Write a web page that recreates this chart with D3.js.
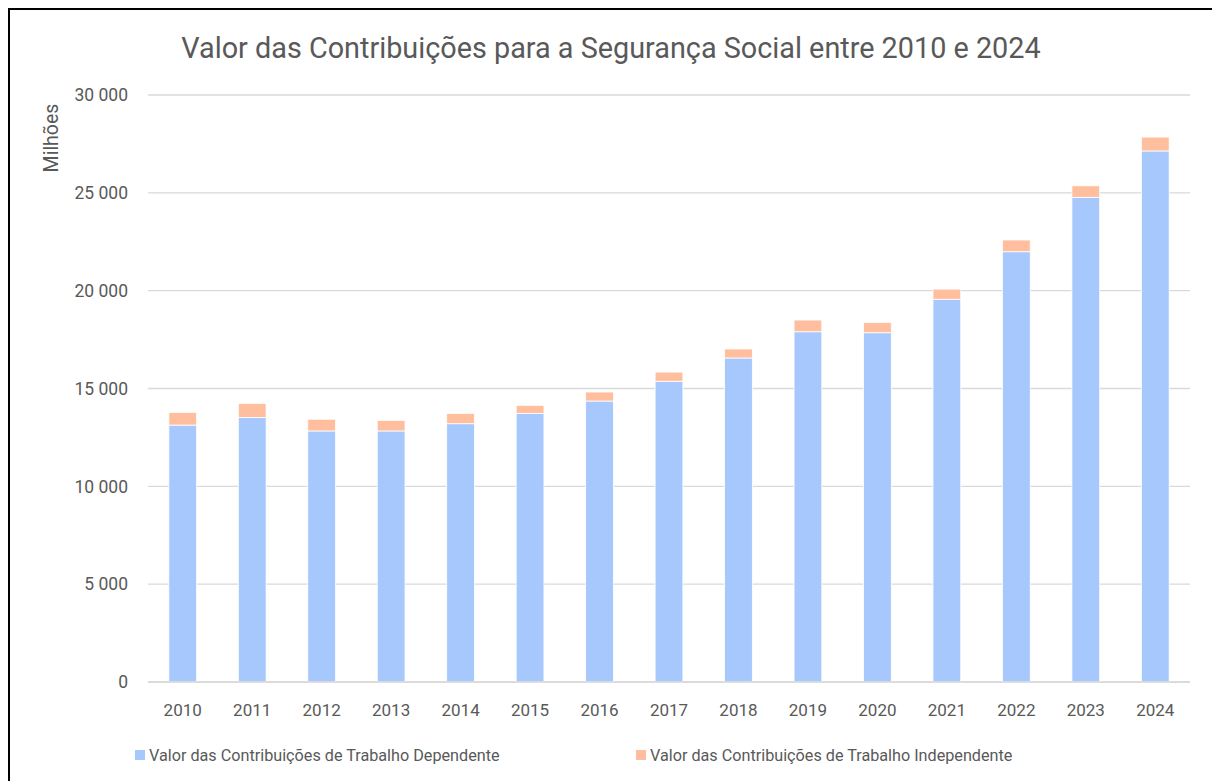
<!DOCTYPE html>
<html>
<head>
<meta charset="utf-8">
<script src="https://cdn.jsdelivr.net/npm/d3@7"></script>
<style>
  body { margin: 0; background: #fff; }
  svg { display: block; font-family: Roboto, "Noto Sans", sans-serif; }
</style>
</head>
<body>
<svg id="chart" width="1212" height="781"></svg>
<script>
var years = ["2010","2011","2012","2013","2014","2015","2016","2017","2018","2019","2020","2021","2022","2023","2024"];
// valores em milhões de euros
var dependente = [13130, 13520, 12830, 12830, 13200, 13730, 14360, 15370, 16560, 17900, 17850, 19560, 21990, 24770, 27140];
var independente = [650, 720, 600, 540, 530, 410, 460, 470, 460, 600, 530, 520, 600, 590, 710];
var yTicks = [0, 5000, 10000, 15000, 20000, 25000, 30000];
var seriesNames = ["Valor das Contribuições de Trabalho Dependente", "Valor das Contribuições de Trabalho Independente"];
var colors = ["#a7c8fd", "#ffbf9e"];

var svg = d3.select("#chart"),
    textColor = "#595959",
    plotLeft = 148, plotRight = 1190, plotTop = 95, plotBottom = 682;

var x = d3.scaleBand()
  .domain(years)
  .range([plotLeft, plotRight])
  .paddingInner(0.6)
  .paddingOuter(0.3);

var y = d3.scaleLinear()
  .domain([0, 30000])
  .range([plotBottom, plotTop]);

var fmt = function(d) { return d3.format(",")(d).replace(/,/g, " "); };

// moldura
svg.append("path")
  .attr("d", "M9,781 V9 H1212")
  .attr("fill", "none")
  .attr("stroke", "#000")
  .attr("stroke-width", 2);

// grelha
svg.append("g")
  .selectAll("line")
  .data(yTicks)
  .join("line")
  .attr("x1", plotLeft)
  .attr("x2", plotRight)
  .attr("y1", function(d){ return y(d); })
  .attr("y2", function(d){ return y(d); })
  .attr("stroke", "#d9d9d9")
  .attr("stroke-width", 1.3);

svg.append("g")
  .selectAll("text")
  .data(yTicks)
  .join("text")
  .attr("x", 128)
  .attr("y", function(d){ return y(d); })
  .attr("dy", "0.36em")
  .attr("text-anchor", "end")
  .attr("fill", textColor)
  .style("font-size", "17.5px")
  .text(fmt);

// barras empilhadas
var rows = years.map(function(yr, i) {
  return { year: yr, dep: dependente[i], ind: independente[i] };
});
var stack = d3.stack().keys(["dep", "ind"])(rows);

svg.append("g")
  .selectAll("g")
  .data(stack)
  .join("g")
  .attr("fill", function(d, i){ return colors[i]; })
  .selectAll("rect")
  .data(function(d){ return d; })
  .join("rect")
  .attr("x", function(d){ return x(d.data.year); })
  .attr("y", function(d){ return y(d[1]); })
  .attr("width", x.bandwidth())
  .attr("height", function(d){ return y(d[0]) - y(d[1]); })
  .attr("stroke", "#fff")
  .attr("stroke-width", 0.8);

// eixo x
svg.append("line")
  .attr("x1", plotLeft).attr("x2", plotRight)
  .attr("y1", plotBottom).attr("y2", plotBottom)
  .attr("stroke", "#d9d9d9")
  .attr("stroke-width", 1.3);

svg.append("g")
  .selectAll("text")
  .data(years)
  .join("text")
  .attr("x", function(d){ return x(d) + x.bandwidth() / 2; })
  .attr("y", 716)
  .attr("text-anchor", "middle")
  .attr("fill", textColor)
  .style("font-size", "17px")
  .text(function(d){ return d; });

// títulos
svg.append("text")
  .attr("x", 611)
  .attr("y", 58)
  .attr("text-anchor", "middle")
  .attr("fill", textColor)
  .style("font-size", "28.8px")
  .text("Valor das Contribuições para a Segurança Social entre 2010 e 2024");

svg.append("text")
  .attr("transform", "translate(58,138) rotate(-90)")
  .attr("text-anchor", "middle")
  .attr("fill", textColor)
  .style("font-size", "19.5px")
  .text("Milhões");

// legenda
var legendX = [135, 636];
var legend = svg.append("g")
  .selectAll("g")
  .data(seriesNames)
  .join("g")
  .attr("transform", function(d, i){ return "translate(" + legendX[i] + ",750)"; });

legend.append("rect")
  .attr("width", 10).attr("height", 10)
  .attr("fill", function(d, i){ return colors[i]; });

legend.append("text")
  .attr("x", 14)
  .attr("y", 10.5)
  .attr("fill", textColor)
  .style("font-size", "16.2px")
  .text(function(d){ return d; });
</script>
</body>
</html>
